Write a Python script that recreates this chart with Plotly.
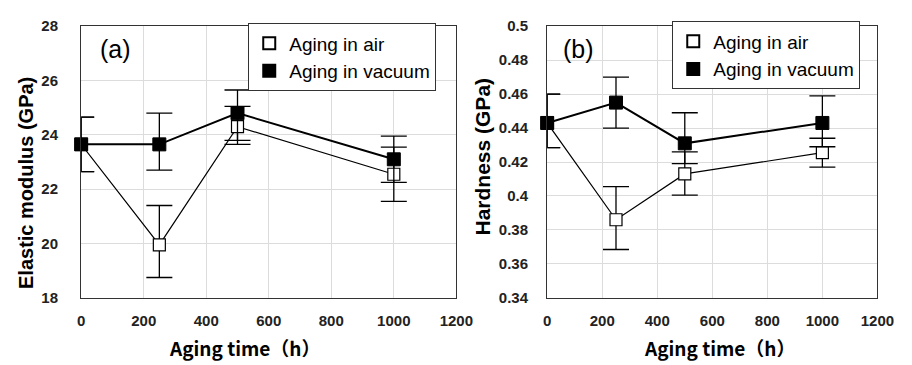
import plotly.graph_objects as go

time_h = [0, 250, 500, 1000]

# (a) Elastic modulus (GPa)
em_air = [23.65, 19.95, 24.3, 22.55]
em_air_err_up = [1.0, 1.45, 0.75, 1.0]
em_air_err_dn = [1.0, 1.2, 0.65, 1.0]
em_vac = [23.65, 23.65, 24.8, 23.1]
em_vac_err_up = [1.0, 1.15, 0.85, 0.85]
em_vac_err_dn = [1.0, 0.95, 1.0, 0.85]

# (b) Hardness (GPa)
hd_air = [0.443, 0.386, 0.413, 0.4255]
hd_air_err_up = [0.017, 0.0195, 0.013, 0.0085]
hd_air_err_dn = [0.0145, 0.0175, 0.0125, 0.0085]
hd_vac = [0.443, 0.455, 0.431, 0.443]
hd_vac_err_up = [0.017, 0.015, 0.018, 0.016]
hd_vac_err_dn = [0.0145, 0.015, 0.012, 0.014]

x_ticks = [0, 200, 400, 600, 800, 1000, 1200]
em_ticks = [18, 20, 22, 24, 26, 28]
hd_ticks = [0.34, 0.36, 0.38, 0.4, 0.42, 0.44, 0.46, 0.48, 0.5]
hd_tick_text = ["0.34", "0.36", "0.38", "0.4", "0.42", "0.44", "0.46", "0.48", "0.5"]

FONT = "Liberation Sans, Arial, sans-serif"
JFONT = "Noto Sans CJK JP, Liberation Sans, sans-serif"

fig = go.Figure()


def add_series(xref, yref, legend, y_air, air_up, air_dn, y_vac, vac_up, vac_dn):
    fig.add_trace(go.Scatter(
        x=time_h, y=y_air, xaxis=xref, yaxis=yref, showlegend=False,
        name="Aging in air", mode="lines+markers", cliponaxis=False,
        line=dict(color="black", width=1.2),
        marker=dict(symbol="square", size=12, color="white", line=dict(color="black", width=1.2)),
        error_y=dict(type="data", symmetric=False, array=air_up, arrayminus=air_dn,
                     color="black", thickness=1.3, width=13),
    ))
    fig.add_trace(go.Scatter(
        x=time_h, y=y_vac, xaxis=xref, yaxis=yref, showlegend=False,
        name="Aging in vacuum", mode="lines+markers", cliponaxis=False,
        line=dict(color="black", width=2),
        marker=dict(symbol="square", size=13, color="black", line=dict(color="black", width=1)),
        error_y=dict(type="data", symmetric=False, array=vac_up, arrayminus=vac_dn,
                     color="black", thickness=1.3, width=13),
    ))
    # legend-only entries (marker symbol only, as in the reference legend)
    fig.add_trace(go.Scatter(
        x=[None], y=[None], xaxis=xref, yaxis=yref, legend=legend, name="Aging in air",
        mode="markers",
        marker=dict(symbol="square", size=11, color="white", line=dict(color="black", width=1.2)),
    ))
    fig.add_trace(go.Scatter(
        x=[None], y=[None], xaxis=xref, yaxis=yref, legend=legend, name="Aging in vacuum",
        mode="markers",
        marker=dict(symbol="square", size=11, color="black", line=dict(color="black", width=1)),
    ))


add_series("x", "y", "legend", em_air, em_air_err_up, em_air_err_dn, em_vac, em_vac_err_up, em_vac_err_dn)
add_series("x2", "y2", "legend2", hd_air, hd_air_err_up, hd_air_err_dn, hd_vac, hd_vac_err_up, hd_vac_err_dn)

ydom = [1 - 303 / 365, 1 - 18 / 365]
axis_common = dict(
    showline=True, linecolor="#333333", linewidth=1.3, mirror=True,
    showgrid=True, gridcolor="#dcdcdc", gridwidth=1, zeroline=False,
    ticks="", tickfont=dict(family=FONT, size=15, color="#222222", weight="bold"),
)

legend_common = dict(
    xanchor="left", yanchor="top", bordercolor="#333333", borderwidth=1, bgcolor="white",
    font=dict(family=FONT, size=19, color="black"), itemsizing="constant",
    tracegroupgap=0, itemwidth=30,
)

fig.update_layout(
    width=912, height=365,
    margin=dict(l=0, r=0, t=0, b=0),
    paper_bgcolor="white", plot_bgcolor="white",
    font=dict(family=FONT, color="black"),
    showlegend=True,
    xaxis=dict(domain=[79 / 912, 463 / 912], range=[0, 1200], tickvals=x_ticks, anchor="y",
               ticklabelstandoff=9, **axis_common),
    yaxis=dict(domain=ydom, range=[18, 28], tickvals=em_ticks, anchor="x", ticklabelstandoff=19,
               **axis_common),
    xaxis2=dict(domain=[556 / 912, 894 / 912], range=[0, 1200], tickvals=x_ticks, anchor="y2",
                ticklabelstandoff=9, **axis_common),
    yaxis2=dict(domain=ydom, range=[0.34, 0.5], tickvals=hd_ticks, ticktext=hd_tick_text, anchor="x2",
                ticklabelstandoff=15, **axis_common),
    legend=dict(x=250 / 912, y=1 - 15 / 365, **legend_common),
    legend2=dict(x=684 / 912, y=1 - 13 / 365, **legend_common),
    annotations=[
        dict(text="(a)", x=96 / 912, y=1 - 42 / 365, xref="paper", yref="paper", xanchor="left",
             yanchor="middle", showarrow=False, font=dict(family=FONT, size=25, color="black")),
        dict(text="(b)", x=570 / 912, y=1 - 42 / 365, xref="paper", yref="paper", xanchor="left",
             yanchor="middle", showarrow=False, font=dict(family=FONT, size=25, color="black")),
        dict(text="Elastic modulus (GPa)", x=22 / 912, y=1 - 182 / 365, xref="paper", yref="paper",
             textangle=-90, showarrow=False, xanchor="center", yanchor="middle",
             font=dict(family=FONT, size=20, color="black", weight="bold")),
        dict(text="Hardness (GPa)", x=490 / 912, y=1 - 155 / 365, xref="paper", yref="paper",
             textangle=-90, showarrow=False, xanchor="center", yanchor="middle",
             font=dict(family=FONT, size=21, color="black", weight="bold")),
        dict(text="Aging time（h）", x=246 / 912, y=1 - 355 / 365, xref="paper", yref="paper",
             showarrow=False, xanchor="center", yanchor="middle",
             font=dict(family=JFONT, size=19, color="black", weight="bold")),
        dict(text="Aging time（h）", x=732 / 912, y=1 - 355 / 365, xref="paper", yref="paper",
             showarrow=False, xanchor="center", yanchor="middle",
             font=dict(family=JFONT, size=19, color="black", weight="bold")),
    ],
)

fig.write_html("out.html")
